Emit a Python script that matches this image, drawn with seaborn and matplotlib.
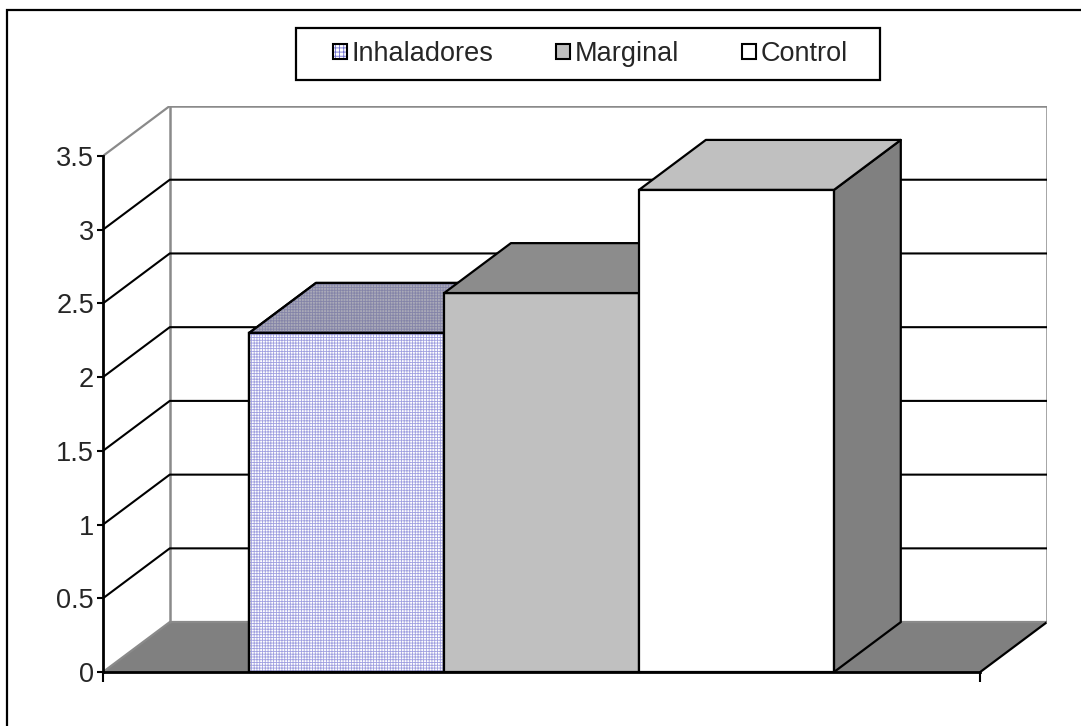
import matplotlib
matplotlib.use("Agg")
import matplotlib.pyplot as plt
from matplotlib.patches import Polygon, Rectangle, Patch
from matplotlib.legend_handler import HandlerTuple
import seaborn as sns
import pandas as pd

# Series shown as three adjacent columns in a single category
series = ["Inhaladores", "Marginal", "Control"]
values = [2.30, 2.57, 3.27]
category = [""]
y_ticks = [0, 0.5, 1, 1.5, 2, 2.5, 3, 3.5]
y_tick_labels = ["0", "0.5", "1", "1.5", "2", "2.5", "3", "3.5"]

df = pd.DataFrame({"grupo": category * len(series), "serie": series, "valor": values})

sns.set_style("white")
plt.rcParams["font.family"] = ["Liberation Sans", "DejaVu Sans"]
plt.rcParams["hatch.linewidth"] = 0.6

W, H = 1081, 726
fig = plt.figure(figsize=(W / 100, H / 100), dpi=100)
fig.patch.set_facecolor("white")

# plot box (front-left corner of floor to back-right top of wall)
x_left_px, x_right_px, y_bot_px, y_top_px = 103, 1047, 672, 106
ax = fig.add_axes([x_left_px / W, 1 - y_bot_px / H,
                   (x_right_px - x_left_px) / W, (y_bot_px - y_top_px) / H])
ax.set_facecolor("none")

# depth of the 3D box in data units
ymax = 3.5
dx = 0.0913
dy = 0.3385
xl, xr = -0.6, 0.6

front_colors = {"Inhaladores": "white", "Marginal": "#c0c0c0", "Control": "white"}
top_colors = {"Inhaladores": "#aaaab8", "Marginal": "#8c8c8c", "Control": "#c0c0c0"}
side_color = "#808080"

sns.barplot(data=df, x="grupo", y="valor", hue="serie", hue_order=series,
            palette=front_colors, width=0.8, dodge=True, legend=False,
            edgecolor="black", linewidth=1.6, saturation=1, ax=ax)

ax.set_xlim(xl, xr + dx)
ax.set_ylim(0, ymax + dy)

grey = "#8a8a8a"
# floor
ax.add_patch(Polygon([(xl, 0), (xr, 0), (xr + dx, dy), (xl + dx, dy)],
                     closed=True, facecolor="#808080", edgecolor="none", zorder=0.5))
ax.plot([xl, xl + dx], [0, dy], color=grey, lw=1.6, zorder=0.6)
ax.plot([xl + dx, xr + dx], [dy, dy], color=grey, lw=1.6, zorder=0.6)
ax.plot([xr, xr + dx], [0, dy], color="black", lw=1.6, zorder=0.6)
# back wall and side wall edges
ax.plot([xl + dx, xl + dx], [dy, ymax + dy], color=grey, lw=1.8, zorder=0.6)
ax.plot([xr + dx, xr + dx], [dy, ymax + dy], color=grey, lw=1.8, zorder=0.6)
ax.plot([xl + dx, xr + dx], [ymax + dy, ymax + dy], color=grey, lw=1.8, zorder=0.6)
ax.plot([xl, xl + dx], [ymax, ymax + dy], color=grey, lw=1.6, zorder=0.6)
# gridlines on side and back walls
for v in y_ticks[1:-1]:
    ax.plot([xl, xl + dx, xr + dx], [v, v + dy, v + dy], color="black", lw=1.5, zorder=0.7)

# turn the flat columns into boxes
for i, (name, cont) in enumerate(zip(series, ax.containers)):
    for bar in cont.patches:
        x0 = bar.get_x()
        x1 = x0 + bar.get_width()
        v = bar.get_height()
        z = 3 + i
        bar.set_zorder(z)
        top = Polygon([(x0, v), (x1, v), (x1 + dx, v + dy), (x0 + dx, v + dy)], closed=True,
                      facecolor=top_colors[name], edgecolor="black", lw=1.6, zorder=z,
                      joinstyle="round")
        side = Polygon([(x1, 0), (x1 + dx, dy), (x1 + dx, v + dy), (x1, v)], closed=True,
                       facecolor=side_color, edgecolor="black", lw=1.6, zorder=z,
                       joinstyle="round")
        ax.add_patch(side)
        ax.add_patch(top)
        if name == "Inhaladores":
            bar.set_facecolor("white")
            ax.add_patch(Rectangle((x0, 0), x1 - x0, v, facecolor="none",
                                   edgecolor="#a0a0e0", hatch="++++++", lw=0, zorder=z + 0.1))
            ax.add_patch(Polygon(top.get_xy(), closed=True, facecolor="none",
                                 edgecolor="#8484a8", hatch="++++++", lw=0, zorder=z + 0.1))
            ax.add_patch(Rectangle((x0, 0), x1 - x0, v, facecolor="none",
                                   edgecolor="black", lw=1.6, zorder=z + 0.2))
            ax.add_patch(Polygon(top.get_xy(), closed=True, facecolor="none",
                                 edgecolor="black", lw=1.6, zorder=z + 0.2))

# axes lines
for s in ["top", "right"]:
    ax.spines[s].set_visible(False)
ax.spines["left"].set_bounds(0, ymax)
ax.spines["bottom"].set_bounds(xl, xr)
for s in ["left", "bottom"]:
    ax.spines[s].set_color("black")
    ax.spines[s].set_linewidth(2.0)
    ax.spines[s].set_zorder(10)

ax.set_yticks(y_ticks)
ax.set_yticklabels(y_tick_labels)
ax.set_xticks([xl, xr])
ax.set_xticklabels(["", ""])
ax.set_xlabel("")
ax.set_ylabel("")
ax.tick_params(axis="y", which="major", left=True, direction="out", length=4.5, width=1.5,
               color="black", labelsize=19.5, pad=2)
ax.tick_params(axis="x", which="major", bottom=True, direction="out", length=7, width=1.5,
               color="black")
ax.grid(False)

# legend: boxed strip with one entry per series
fig.add_artist(Rectangle((296 / W, 1 - 80 / H), (880 - 296) / W, 52 / H,
                         transform=fig.transFigure, facecolor="white",
                         edgecolor="black", lw=1.6, zorder=1.5))
handles = [
    (Patch(facecolor="white", edgecolor="#7070d0", hatch="++++", lw=0),
     Patch(facecolor="none", edgecolor="black", lw=1.5)),
    Patch(facecolor="#c0c0c0", edgecolor="black", lw=1.5),
    Patch(facecolor="white", edgecolor="black", lw=1.5),
]
entry_left_px = [333, 556, 742]
for handle, label, xpx in zip(handles, series, entry_left_px):
    leg = fig.legend([handle], [label], loc="center left",
                     bbox_to_anchor=(xpx / W, 1 - 54 / H), fontsize=19.5,
                     frameon=False, handlelength=0.52, handleheight=0.52,
                     handletextpad=0.18, borderpad=0, borderaxespad=0,
                     handler_map={tuple: HandlerTuple(ndivide=1, pad=0)})
    leg.set_zorder(5)

# outer chart border
fig.add_artist(Rectangle((7 / W, -0.1), 1.2, 1.1 - 10 / H, transform=fig.transFigure,
                         facecolor="none", edgecolor="black", lw=1.6, zorder=20))

fig.savefig("out.png", dpi=100, facecolor="white")
